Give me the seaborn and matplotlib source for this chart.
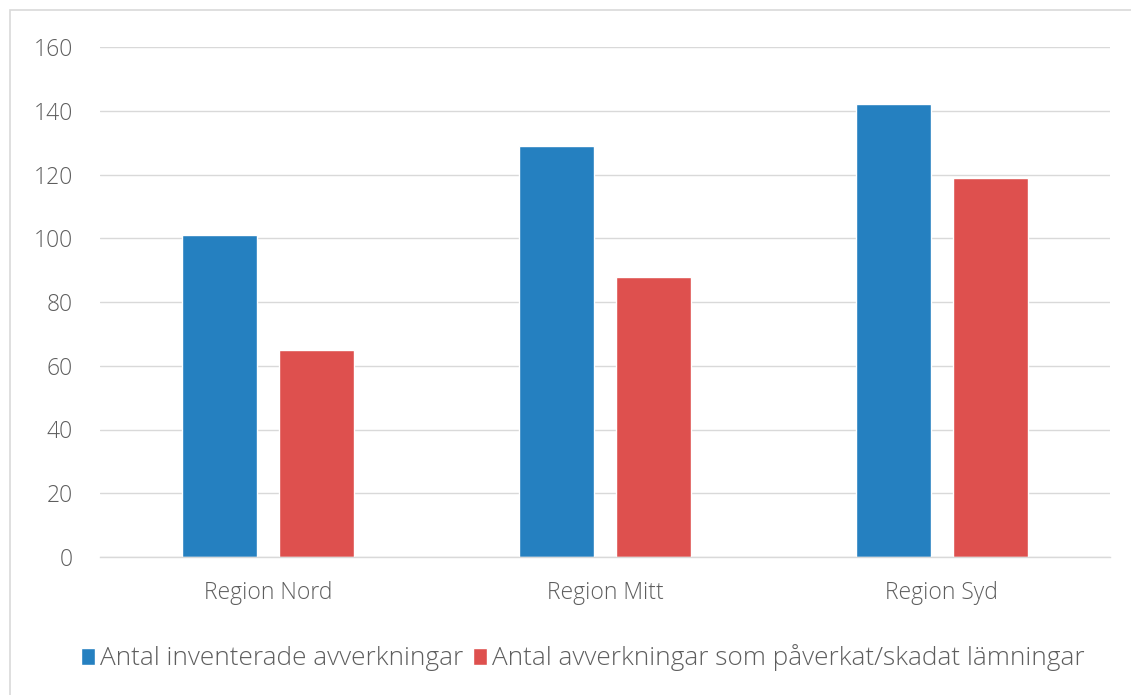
import matplotlib
matplotlib.use("Agg")
import matplotlib.pyplot as plt
import seaborn as sns
import pandas as pd
from matplotlib.patches import Rectangle

categories = ["Region Nord", "Region Mitt", "Region Syd"]
series_names = ["Antal inventerade avverkningar", "Antal avverkningar som påverkat/skadat lämningar"]
inventerade = [101, 129, 142]
paverkade = [65, 88, 119]
y_ticks = [0, 20, 40, 60, 80, 100, 120, 140, 160]
colors = ["#2580C0", "#DE504E"]

df = pd.DataFrame({
    "Region": categories * 2,
    "Serie": [series_names[0]] * 3 + [series_names[1]] * 3,
    "Antal": inventerade + paverkade,
})

sns.set_theme(style="white")
plt.rcParams["font.family"] = ["Open Sans", "DejaVu Sans"]
plt.rcParams["font.weight"] = "light"

W, H = 1131, 695
fig = plt.figure(figsize=(W / 100, H / 100), dpi=100)
ax = fig.add_axes([100 / W, 1 - 557 / H, (1110 - 100) / W, (557 - 47) / H])

sns.barplot(data=df, x="Region", y="Antal", hue="Serie", palette=colors,
            width=0.577, gap=0.226, ax=ax, saturation=1, legend=True)

ax.set_ylim(0, 160)
ax.set_xlim(-0.5, 2.5)
ax.set_yticks(y_ticks)
ax.set_yticklabels([str(t) for t in y_ticks])
ax.yaxis.grid(True, color="#D9D9D9", linewidth=1)
ax.set_axisbelow(True)
for s in ["top", "right", "left"]:
    ax.spines[s].set_visible(False)
ax.spines["bottom"].set_color("#D9D9D9")
ax.spines["bottom"].set_linewidth(1)
ax.tick_params(axis="y", length=0, pad=19.5, labelsize=16.5, labelcolor="#5E5E5E")
ax.tick_params(axis="x", length=0, pad=17, labelsize=16.5, labelcolor="#5E5E5E")
ax.set_xlabel("")
ax.set_ylabel("")

handles, labels = ax.get_legend_handles_labels()
ax.get_legend().remove()
fig.legend(handles, labels, loc="center", bbox_to_anchor=(583 / W, 1 - 658 / H),
           ncol=2, frameon=False, fontsize=18.8, labelcolor="#5E5E5E",
           handlelength=0.55, handleheight=0.65, handletextpad=0.2, columnspacing=0.35)

fig.patches.append(Rectangle((10 / W, -0.05), 1.05, 1 - 10 / H + 0.05,
                             transform=fig.transFigure, fill=False,
                             edgecolor="#D9D9D9", linewidth=1.2))

fig.savefig("out.png", dpi=100, facecolor="white")
